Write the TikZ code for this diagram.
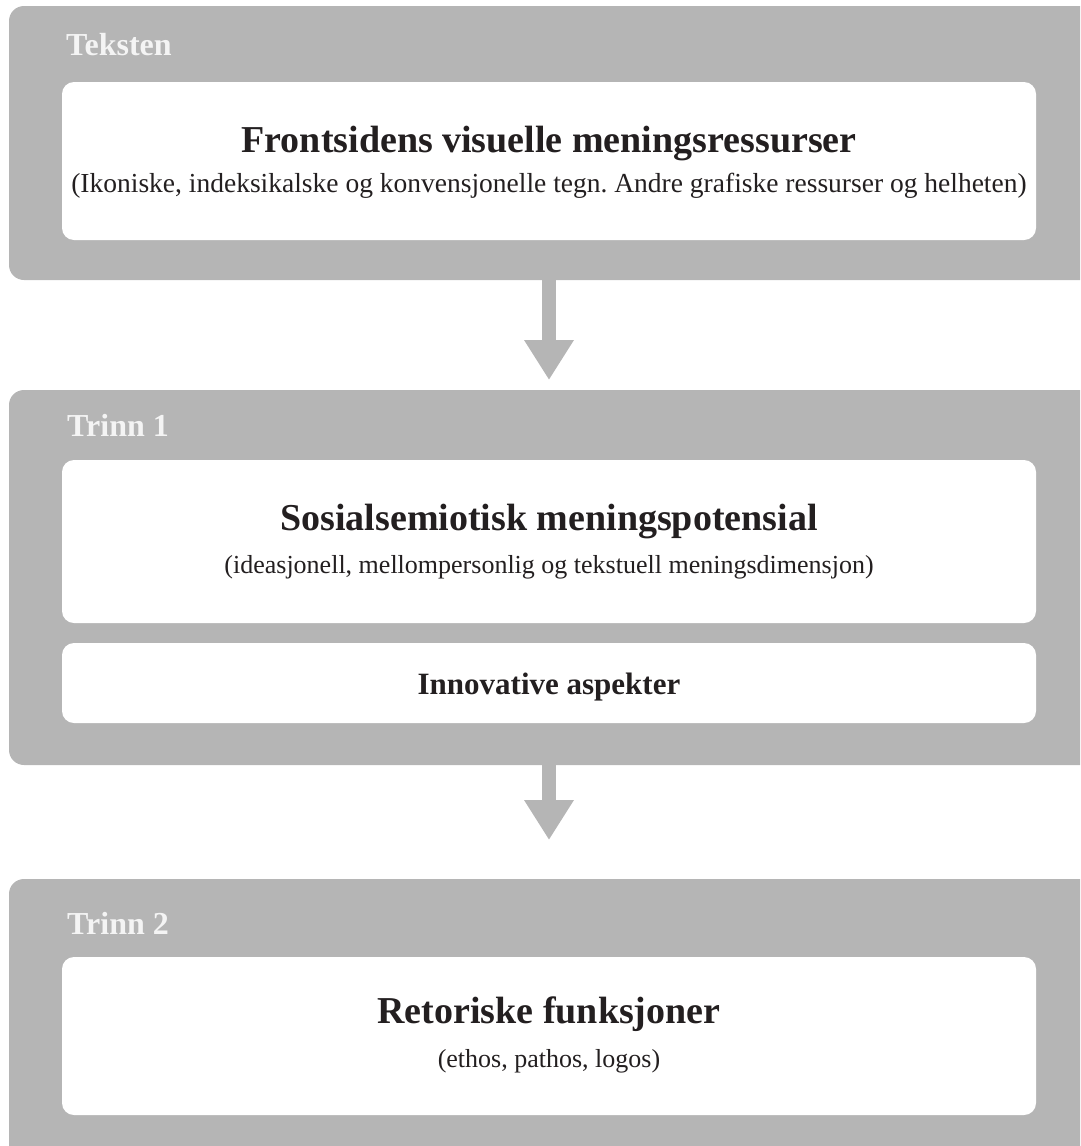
\documentclass[tikz,border=0pt]{standalone}
\usepackage{fontspec}
\setmainfont{Liberation Serif}
\usetikzlibrary{arrows.meta}
\definecolor{boksgraa}{HTML}{B5B5B5}
\definecolor{etikettfarge}{HTML}{F4F4F4}
\definecolor{skrift}{HTML}{231F20}
\frenchspacing

\begin{document}
\begin{tikzpicture}[x=1pt, y=-1pt,
  boks/.style={fill=boksgraa, rounded corners=15pt, anchor=north west, inner sep=0pt, outer sep=0pt, minimum width=1091pt},
  felt/.style={fill=white, rounded corners=12pt, anchor=north west, inner sep=0pt, outer sep=0pt, minimum width=974pt},
  etikett/.style={anchor=base west, inner sep=0pt, text=etikettfarge, font=\fontsize{32}{38}\selectfont\bfseries},
  tittel/.style={anchor=base, inner sep=0pt, text=skrift, font=\fontsize{38}{44}\selectfont\bfseries},
  forklaring/.style={anchor=base, inner sep=0pt, text=skrift, font=\fontsize{26}{32}\selectfont},
  pil/.style={draw=boksgraa, line width=14pt, -{Triangle[width=47pt,length=40pt]}}]
\useasboundingbox (0,0) rectangle (1080,1146);
\clip (0,0) rectangle (1080,1146);

\node[boks, minimum height=274pt] (tekst) at (9,6) {};
\node[etikett] (tekstlabel) at (66,55) {Teksten};
\node[felt, minimum height=158pt] (frontside) at (62,82) {};
\node[tittel] (frontsidetittel) at (549,152) {Frontsidens visuelle meningsressurser};
\node[forklaring, font=\fontsize{27.5}{32}\selectfont] (frontsidetekst) at (549,192) {(Ikoniske, indeksikalske og konvensjonelle tegn. Andre grafiske ressurser og helheten)};

\node[boks, minimum height=375pt] (trinn1) at (9,390) {};
\node[etikett] (trinn1label) at (67,436) {Trinn 1};
\node[felt, minimum height=163pt] (potensial) at (62,460) {};
\node[tittel] (potensialtittel) at (549,530) {Sosialsemiotisk meningspotensial};
\node[forklaring] (potensialtekst) at (549,573) {(ideasjonell, mellompersonlig og tekstuell meningsdimensjon)};
\node[felt, minimum height=80pt] (innovativ) at (62,643) {};
\node[tittel, font=\fontsize{31}{36}\selectfont\bfseries] (innovativtittel) at (549,694) {Innovative aspekter};

\node[boks, minimum height=330pt] (trinn2) at (9,879) {};
\node[etikett] (trinn2label) at (67,934) {Trinn 2};
\node[felt, minimum height=158pt] (retorikk) at (62,957) {};
\node[tittel] (retorikktittel) at (549,1023) {Retoriske funksjoner};
\node[forklaring] (retorikktekst) at (549,1067) {(ethos, pathos, logos)};

\draw[pil, shorten >=10pt] (tekst.south -| frontside.south) -- (trinn1.north -| frontside.south);
\draw[pil, shorten >=39pt] (trinn1.south -| frontside.south) -- (trinn2.north -| frontside.south);
\end{tikzpicture}
\end{document}
